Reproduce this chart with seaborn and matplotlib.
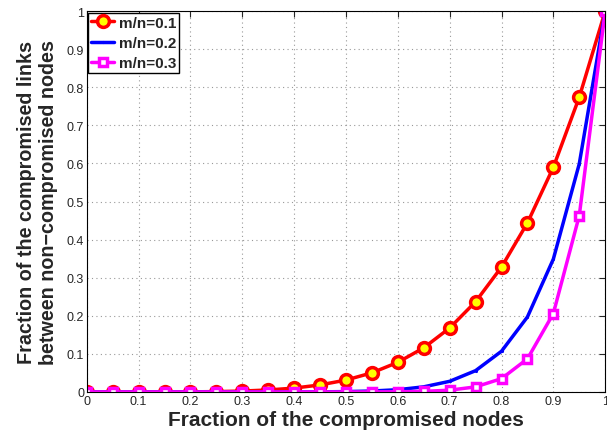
import matplotlib
matplotlib.use("Agg")
import matplotlib.pyplot as plt
import seaborn as sns
import pandas as pd

x = [0.0, 0.05, 0.1, 0.15, 0.2, 0.25, 0.3, 0.35, 0.4, 0.45, 0.5,
     0.55, 0.6, 0.65, 0.7, 0.75, 0.8, 0.85, 0.9, 0.95, 1.0]
y_01 = [0.0, 0.0, 0.0, 0.0, 0.0003, 0.001, 0.0024, 0.0053, 0.0102, 0.0185, 0.0313,
        0.0503, 0.0778, 0.116, 0.168, 0.237, 0.328, 0.444, 0.590, 0.774, 1.0]
y_02 = [0.0, 0.0, 0.0, 0.0, 0.0, 0.0, 0.0, 0.0, 0.0001, 0.0003, 0.001,
        0.0025, 0.006, 0.0135, 0.028, 0.056, 0.107, 0.197, 0.349, 0.599, 1.0]
y_03 = [0.0, 0.0, 0.0, 0.0, 0.0, 0.0, 0.0, 0.0, 0.0, 0.0, 0.0,
        0.0001, 0.0005, 0.0016, 0.0047, 0.0134, 0.035, 0.087, 0.206, 0.463, 1.0]
labels = ["m/n=0.1", "m/n=0.2", "m/n=0.3"]
xticks = [0, 0.1, 0.2, 0.3, 0.4, 0.5, 0.6, 0.7, 0.8, 0.9, 1]
yticks = [0, 0.1, 0.2, 0.3, 0.4, 0.5, 0.6, 0.7, 0.8, 0.9, 1]

df = pd.DataFrame({"x": x * 3,
                   "y": y_01 + y_02 + y_03,
                   "s": [labels[0]] * len(x) + [labels[1]] * len(x) + [labels[2]] * len(x)})

sns.set_style("white")
plt.rcParams['font.family'] = ['Liberation Sans', 'DejaVu Sans']
fig = plt.figure(figsize=(6.07, 4.35), dpi=100)
ax = fig.add_axes([0.143, 0.0966, 0.854, 0.8754])

styles = {
    labels[0]: dict(color="red", lw=2.5, marker="o", ms=8.5, mfc="yellow", mec="red", mew=2.5),
    labels[1]: dict(color="blue", lw=2.5, marker=".", ms=3, mfc="blue", mec="blue"),
    labels[2]: dict(color="#ff00ff", lw=2.5, marker="s", ms=6, mfc="white", mec="#ff00ff", mew=2.5),
}
for lab in labels:
    sub = df[df["s"] == lab]
    sns.lineplot(data=sub, x="x", y="y", ax=ax, label=lab, **styles[lab])

ax.set_xlim(0, 1)
ax.set_ylim(0, 1)
ax.set_xticks(xticks)
ax.set_yticks(yticks)
ax.set_xticklabels([f"{t:g}" for t in xticks], fontsize=9)
ax.set_yticklabels([f"{t:g}" for t in yticks], fontsize=9)
ax.tick_params(direction="in", length=4, top=True, right=True, pad=2, width=0.8)
ax.grid(True, linestyle=(0, (1, 3)), color="#999999", linewidth=0.8)
for sp in ax.spines.values():
    sp.set_color("black")
    sp.set_linewidth(0.8)
ax.set_xlabel("Fraction of the compromised nodes", fontsize=15, fontweight="bold", labelpad=2)
ax.set_ylabel("Fraction of the compromised links\nbetween non\u2212compromised nodes",
              fontsize=14.2, fontweight="bold", labelpad=6, linespacing=1.2)
leg = ax.legend(loc="upper left", prop={"weight": "bold", "size": 11}, fancybox=False,
                framealpha=1, edgecolor="black", borderpad=0.2, labelspacing=0.4,
                handlelength=1.5, handletextpad=0.3, borderaxespad=0.1)
leg.get_frame().set_linewidth(1.0)
fig.savefig("out.png", dpi=100)
